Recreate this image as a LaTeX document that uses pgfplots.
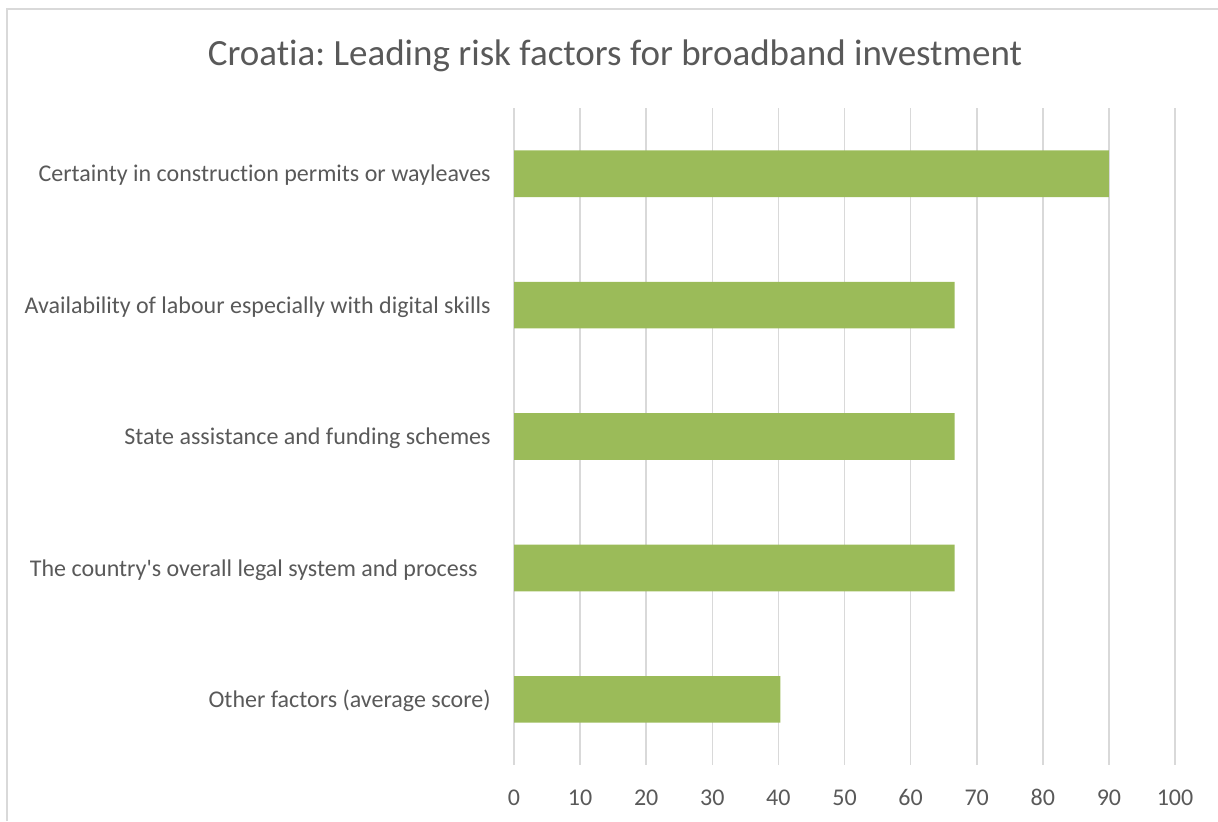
\documentclass[border=0pt]{standalone}
\usepackage{pgfplots}
\pgfplotsset{compat=1.18}
\usepackage{fontspec}
\setmainfont{Carlito}[Ligatures={NoCommon}]
\frenchspacing
\newcommand{\sq}{\XeTeXglyph\XeTeXcharglyph"27\relax}
\definecolor{txt}{HTML}{595959}
\definecolor{gridc}{HTML}{D9D9D9}
\definecolor{barc}{HTML}{9BBB59}
\begin{document}
\begin{tikzpicture}
\useasboundingbox (0,0) rectangle (609pt,-410.5pt);
\draw[gridc, line width=0.75pt] (3.4pt,-410.5pt) -- (3.4pt,-4.6pt) -- (609pt,-4.6pt);
\node[anchor=base, text=txt, font=\fontsize{18.5}{20}\selectfont, inner sep=0] at (307.5pt,-32.5pt) {Croatia: Leading risk factors for broadband investment};
\begin{axis}[
  at={(257pt,-382.5pt)}, anchor=south west,
  scale only axis, width=330.5pt, height=328.5pt,
  xbar, bar width=0.355,
  xmin=0, xmax=100, ymin=-0.5, ymax=4.5, y dir=reverse,
  xtick={0,10,...,100}, ytick={0,1,2,3,4},
  yticklabels={Certainty in construction permits or wayleaves, Availability of labour especially with digital skills, State assistance and funding schemes, The country\sq s overall legal system and process\kern6.5pt, Other factors (average score)},
  axis line style={draw=none}, major tick length=0pt,
  xmajorgrids, ymajorgrids=false,
  grid style={draw=gridc, line width=0.8pt},
  major grid style={draw=gridc, line width=0.8pt},
  /pgf/number format/assume math mode=true,
  tick label style={text=txt, font=\fontsize{12}{14}\selectfont, inner sep=0},
  xticklabel style={anchor=base, yshift=-20pt},
  yticklabel style={anchor=base east, yshift=-4.1pt, xshift=-11.5pt},
  clip=false,
]
\addplot[fill=barc, draw=none] coordinates {(90,0) (66.67,1) (66.67,2) (66.67,3) (40.3,4)};
\end{axis}
\end{tikzpicture}
\end{document}
